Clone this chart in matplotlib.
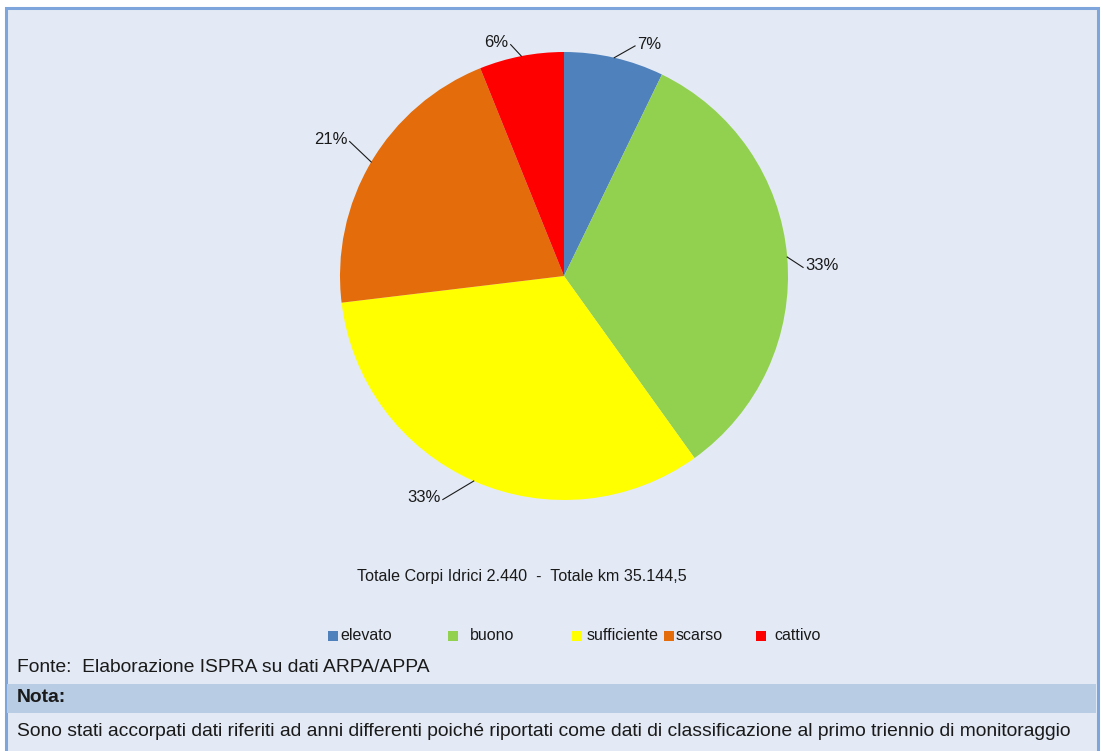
import numpy as np
import matplotlib.pyplot as plt
from matplotlib.patches import Rectangle

# data
categories = ['elevato', 'buono', 'sufficiente', 'scarso', 'cattivo']
shares = [7.2, 32.9, 33.0, 20.8, 6.1]
pct_labels = ['7%', '33%', '33%', '21%', '6%']
colors = ['#4F81BD', '#92D050', '#FFFF00', '#E46C0A', '#FF0000']

totale_txt = 'Totale Corpi Idrici 2.440  -  Totale km 35.144,5'
fonte_txt = 'Fonte:  Elaborazione ISPRA su dati ARPA/APPA'
nota_title = 'Nota:'
nota_txt = ('Sono stati accorpati dati riferiti ad anni differenti poiché riportati '
            'come dati di classificazione al primo triennio di monitoraggio')

# label placement (angle shift in deg, radius, alignment)
lab_dang = [-4.2, -2.8, -4.7, -1.5, 2.0]
lab_rad = [1.075, 1.068, 1.135, 1.13, 1.06]
lab_ha = ['left', 'left', 'right', 'right', 'right']

plt.rcParams['font.family'] = ['Liberation Sans', 'DejaVu Sans']

W, H = 1103, 751
fig = plt.figure(figsize=(W / 100, H / 100), dpi=100)
fig.patch.set_facecolor('white')

def fx(px):
    return px / W

def fy(py):
    return 1 - py / H

# background frame
fig.add_artist(Rectangle((fx(6), fy(760)), fx(1098) - fx(6), fy(8) - fy(760),
                         transform=fig.transFigure, facecolor='#E3EAF5',
                         edgecolor='#7EA6DC', linewidth=2.2, zorder=0))
fig.add_artist(Rectangle((fx(7), fy(713)), fx(1096) - fx(7), fy(684) - fy(713),
                         transform=fig.transFigure, facecolor='#B8CCE4',
                         edgecolor='none', zorder=1))

# pie axes: center (564, 276) px, radius 224 px
side = 560
ax = fig.add_axes([fx(564 - side / 2), fy(276 + side / 2), side / W, side / H])
ax.set_xlim(-1.25, 1.25)
ax.set_ylim(-1.25, 1.25)
ax.axis('off')

wedges, _ = ax.pie(shares, colors=colors, startangle=90, counterclock=False,
                   radius=1.0, wedgeprops=dict(linewidth=0))

for w, lab, da, r, ha in zip(wedges, pct_labels, lab_dang, lab_rad, lab_ha):
    mid = np.deg2rad((w.theta1 + w.theta2) / 2)
    tang = mid + np.deg2rad(da)
    x0, y0 = np.cos(mid), np.sin(mid)
    x1, y1 = r * np.cos(tang), r * np.sin(tang)
    ax.plot([x0, x1], [y0, y1], color='#1a1a1a', lw=0.8, clip_on=False)
    dx = 0.01 if ha == 'left' else -0.01
    ax.text(x1 + dx, y1 - 0.012, lab, ha=ha, va='baseline', fontsize=12,
            color='#1a1a1a')

# total text
fig.text(fx(522), fy(577), totale_txt, ha='center', va='center', fontsize=11.6,
         color='#1a1a1a')

# legend drawn by hand
leg_mark_x = [328, 448, 572, 664, 756]
leg_text_x = [340, 470, 587, 676, 774]
for c, name, mx, tx in zip(colors, categories, leg_mark_x, leg_text_x):
    fig.add_artist(Rectangle((fx(mx), fy(641)), fx(10), fy(631) - fy(641),
                             transform=fig.transFigure, facecolor=c,
                             edgecolor='none'))
    fig.text(fx(tx), fy(636), name, ha='left', va='center', fontsize=11.5,
             color='#1a1a1a')

# footer
fig.text(fx(17), fy(667), fonte_txt, ha='left', va='center', fontsize=13.9,
         color='#1a1a1a')
fig.text(fx(17), fy(698), nota_title, ha='left', va='center', fontsize=13.9,
         weight='bold', color='#1a1a1a')
fig.text(fx(17), fy(731), nota_txt, ha='left', va='center', fontsize=13.9,
         color='#1a1a1a')

fig.savefig('out.png', dpi=100)
